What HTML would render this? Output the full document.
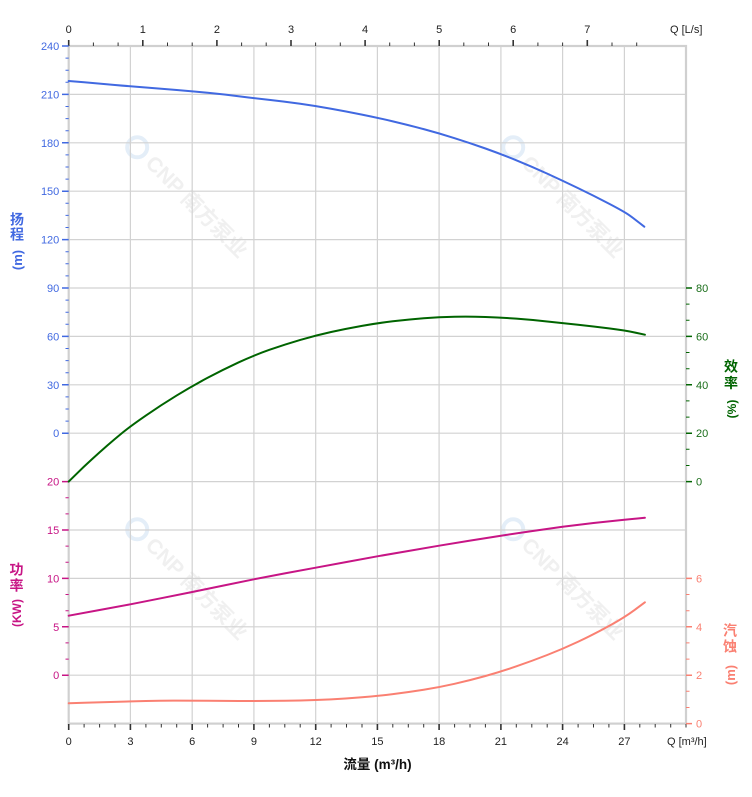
<!DOCTYPE html>
<html><head><meta charset="utf-8"><style>
html,body{margin:0;padding:0;background:#fff;}
svg{display:block;}
text{font-family:"Liberation Sans","Noto Sans CJK SC",sans-serif;}
</style></head><body>
<svg width="752" height="797" viewBox="0 0 752 797" xmlns="http://www.w3.org/2000/svg">
<!-- watermarks -->
<g fill="#f0f0f0" font-weight="bold" font-size="21">
<g transform="translate(186,206) rotate(45)"><circle cx="-76" cy="-7" r="10" fill="none" stroke="#e4eef8" stroke-width="4"/><text x="8" y="0" text-anchor="middle">CNP 南方泵业</text></g>
<g transform="translate(562,206) rotate(45)"><circle cx="-76" cy="-7" r="10" fill="none" stroke="#e4eef8" stroke-width="4"/><text x="8" y="0" text-anchor="middle">CNP 南方泵业</text></g>
<g transform="translate(186,588) rotate(45)"><circle cx="-76" cy="-7" r="10" fill="none" stroke="#e4eef8" stroke-width="4"/><text x="8" y="0" text-anchor="middle">CNP 南方泵业</text></g>
<g transform="translate(562,588) rotate(45)"><circle cx="-76" cy="-7" r="10" fill="none" stroke="#e4eef8" stroke-width="4"/><text x="8" y="0" text-anchor="middle">CNP 南方泵业</text></g>
</g>
<!-- grid -->
<g stroke="#d2d2d2" stroke-width="1.2" fill="none">
<path d="M130.4 46V723.6M192.2 46V723.6M253.9 46V723.6M315.7 46V723.6M377.4 46V723.6M439.1 46V723.6M500.9 46V723.6M562.6 46V723.6M624.4 46V723.6"/>
<path d="M68.7 94.4H686M68.7 142.8H686M68.7 191.2H686M68.7 239.6H686M68.7 288H686M68.7 336.4H686M68.7 384.8H686M68.7 433.2H686M68.7 481.6H686M68.7 530H686M68.7 578.4H686M68.7 626.8H686M68.7 675.2H686"/>
</g>
<rect x="68.7" y="46" width="617.3" height="677.6" fill="none" stroke="#d0d0d0" stroke-width="2.2"/>
<!-- top ticks -->
<g stroke="#333" fill="none">
<path stroke-width="1" d="M93.4 42.5V46M118.1 42.5V46M167.5 42.5V46M192.2 42.5V46M241.6 42.5V46M266.2 42.5V46M315.6 42.5V46M340.3 42.5V46M389.7 42.5V46M414.4 42.5V46M463.8 42.5V46M488.5 42.5V46M537.9 42.5V46M562.6 42.5V46M612 42.5V46M636.7 42.5V46"/>
<path stroke-width="1.6" d="M68.7 40V46M142.8 40V46M216.9 40V46M291 40V46M365.1 40V46M439.2 40V46M513.2 40V46M587.3 40V46"/>
<!-- bottom ticks -->
<path stroke-width="1" d="M84.1 724V727.5M99.6 724V727.5M115 724V727.5M145.9 724V727.5M161.3 724V727.5M176.7 724V727.5M207.6 724V727.5M223.1 724V727.5M238.5 724V727.5M269.4 724V727.5M284.8 724V727.5M300.2 724V727.5M331.1 724V727.5M346.5 724V727.5M362 724V727.5M392.8 724V727.5M408.3 724V727.5M423.7 724V727.5M454.6 724V727.5M470 724V727.5M485.4 724V727.5M516.3 724V727.5M531.8 724V727.5M547.2 724V727.5M578.1 724V727.5M593.5 724V727.5M608.9 724V727.5M639.8 724V727.5M655.2 724V727.5M670.7 724V727.5M686 724V727.5"/>
<path stroke-width="1.6" d="M68.7 724V730M130.4 724V730M192.2 724V730M253.9 724V730M315.7 724V730M377.4 724V730M439.1 724V730M500.9 724V730M562.6 724V730M624.4 724V730"/>
</g>
<!-- left head ticks -->
<g stroke="#4169E1" fill="none">
<path stroke-width="1" d="M65.5 58.1H68.7M65.5 70.2H68.7M65.5 82.3H68.7M65.5 106.5H68.7M65.5 118.6H68.7M65.5 130.7H68.7M65.5 154.9H68.7M65.5 167H68.7M65.5 179.1H68.7M65.5 203.3H68.7M65.5 215.4H68.7M65.5 227.5H68.7M65.5 251.7H68.7M65.5 263.8H68.7M65.5 275.9H68.7M65.5 300.1H68.7M65.5 312.2H68.7M65.5 324.3H68.7M65.5 348.5H68.7M65.5 360.6H68.7M65.5 372.7H68.7M65.5 396.9H68.7M65.5 409H68.7M65.5 421.1H68.7"/>
<path stroke-width="1.5" d="M62 46H68.7M62 94.4H68.7M62 142.8H68.7M62 191.2H68.7M62 239.6H68.7M62 288H68.7M62 336.4H68.7M62 384.8H68.7M62 433.2H68.7"/>
</g>
<!-- left power ticks -->
<g stroke="#C71585" fill="none">
<path stroke-width="1" d="M65.5 497.7H68.7M65.5 513.9H68.7M65.5 546.1H68.7M65.5 562.3H68.7M65.5 594.5H68.7M65.5 610.7H68.7M65.5 642.9H68.7M65.5 659.1H68.7"/>
<path stroke-width="1.5" d="M62 481.6H68.7M62 530H68.7M62 578.4H68.7M62 626.8H68.7M62 675.2H68.7"/>
</g>
<!-- right eff ticks -->
<g stroke="#006400" fill="none">
<path stroke-width="1" d="M686 304.1H689.5M686 320.3H689.5M686 352.5H689.5M686 368.7H689.5M686 400.9H689.5M686 417.1H689.5M686 449.3H689.5M686 465.5H689.5"/>
<path stroke-width="1.5" d="M686 288H692M686 336.4H692M686 384.8H692M686 433.2H692M686 481.6H692"/>
</g>
<!-- right npsh ticks -->
<g stroke="#FA8072" fill="none">
<path stroke-width="1" d="M686 594.5H689.5M686 610.7H689.5M686 642.9H689.5M686 659.1H689.5M686 691.3H689.5M686 707.5H689.5"/>
<path stroke-width="1.5" d="M686 578.4H692M686 626.8H692M686 675.2H692M686 723.6H692"/>
</g>
<!-- curves -->
<g fill="none" stroke-width="2" stroke-linejoin="round" stroke-linecap="round">
<path stroke="#4169E1" d="M68.7,81 L84.15,82.3 Q99.6,83.6 115,84.95 Q130.4,86.3 145.85,87.5 Q161.3,88.7 176.75,90 Q192.2,91.3 207.65,92.8 Q223.1,94.3 238.5,96.25 Q253.9,98.2 269.35,99.9 Q284.8,101.6 300.25,103.8 Q315.7,106 331.1,108.75 Q346.5,111.5 361.95,114.6 Q377.4,117.7 392.85,121.35 Q408.3,125 423.7,129.15 Q439.1,133.3 454.55,138.15 Q470,143 485.45,148.5 Q500.9,154 516.35,160.3 Q531.8,166.6 547.2,173.65 Q562.6,180.7 578.05,188.15 Q593.5,195.6 608.9,203.65 Q624.3,211.7 629.4,215.35 Q634.5,219 639.4,222.85 L644.3,226.7"/>
<path stroke="#006400" d="M68.7,481.6 L76.35,474.05 Q84,466.5 91.8,459.4 Q99.6,452.3 107.3,445.55 Q115,438.8 122.7,432.5 Q130.4,426.2 145.85,415.55 Q161.3,404.9 176.75,395.45 Q192.2,386 207.65,377.8 Q223.1,369.6 238.5,362.45 Q253.9,355.3 269.35,349.85 Q284.8,344.4 300.25,339.9 Q315.7,335.4 331.1,332 Q346.5,328.6 361.95,325.85 Q377.4,323.1 392.85,321.3 Q408.3,319.5 423.7,318.25 Q439.1,317 454.55,316.7 Q470,316.4 485.45,316.95 Q500.9,317.5 516.35,318.65 Q531.8,319.8 547.2,321.45 Q562.6,323.1 578.05,324.8 Q593.5,326.5 608.95,328.4 Q624.4,330.3 634.65,332.5 L644.9,334.7"/>
<polyline stroke="#C71585" points="68.7,615.7 99.6,610 130.4,604.3 161.3,598.2 192.2,592 223.1,585.6 253.9,579.3 284.8,573.4 315.7,567.7 346.5,562 377.4,556.3 408.3,551 439.1,545.7 470,540.6 500.9,535.7 531.8,531.1 562.6,526.7 593.5,523 624.4,519.8 644.9,517.8"/>
<path stroke="#FA8072" d="M68.7,703.3 L84.15,702.8 Q99.6,702.3 115,701.85 Q130.4,701.4 145.85,701 Q161.3,700.6 176.75,700.65 Q192.2,700.7 207.65,700.8 Q223.1,700.9 238.5,700.95 Q253.9,701 269.35,700.9 Q284.8,700.8 300.25,700.5 Q315.7,700.2 331.1,699.4 Q346.5,698.6 361.95,697.3 Q377.4,696 392.85,694.1 Q408.3,692.2 423.7,689.75 Q439.1,687.3 454.55,683.8 Q470,680.3 485.45,676 Q500.9,671.7 516.35,666.35 Q531.8,661 547.2,655 Q562.6,649 578.05,641.75 Q593.5,634.5 608.95,626 Q624.4,617.5 634.65,609.9 L644.9,602.3"/>
</g>
<!-- tick labels -->
<g font-size="11" fill="#222" text-anchor="middle">
<text x="68.7" y="33">0</text><text x="142.8" y="33">1</text><text x="216.9" y="33">2</text><text x="291" y="33">3</text><text x="365.1" y="33">4</text><text x="439.2" y="33">5</text><text x="513.2" y="33">6</text><text x="587.3" y="33">7</text>
<text x="68.7" y="745">0</text><text x="130.4" y="745">3</text><text x="192.2" y="745">6</text><text x="253.9" y="745">9</text><text x="315.7" y="745">12</text><text x="377.4" y="745">15</text><text x="439.1" y="745">18</text><text x="500.9" y="745">21</text><text x="562.6" y="745">24</text><text x="624.4" y="745">27</text>
</g>
<text x="670" y="33" font-size="11" fill="#222">Q [L/s]</text>
<text x="667" y="745" font-size="11" fill="#222">Q [m³/h]</text>
<g font-size="11" fill="#4169E1" text-anchor="end">
<text x="59.3" y="50">240</text><text x="59.3" y="98.4">210</text><text x="59.3" y="146.8">180</text><text x="59.3" y="195.2">150</text><text x="59.3" y="243.6">120</text><text x="59.3" y="292">90</text><text x="59.3" y="340.4">60</text><text x="59.3" y="388.8">30</text><text x="59.3" y="437.2">0</text>
</g>
<g font-size="11" fill="#C71585" text-anchor="end">
<text x="59.3" y="485.6">20</text><text x="59.3" y="534">15</text><text x="59.3" y="582.4">10</text><text x="59.3" y="630.8">5</text><text x="59.3" y="679.2">0</text>
</g>
<g font-size="11" fill="#1a6e1a">
<text x="696" y="292">80</text><text x="696" y="340.4">60</text><text x="696" y="388.8">40</text><text x="696" y="437.2">20</text><text x="696" y="485.6">0</text>
</g>
<g font-size="11" fill="#FA8072">
<text x="696" y="582.4">6</text><text x="696" y="630.8">4</text><text x="696" y="679.2">2</text><text x="696" y="727.6">0</text>
</g>
<!-- axis titles -->
<text x="377.5" y="769" font-size="13.5" font-weight="bold" fill="#111" text-anchor="middle">流量 (m³/h)</text>
<g font-size="14" font-weight="bold" text-anchor="middle">
<g fill="#4169E1"><text x="17" y="224.5">扬</text><text x="17" y="239.5">程</text><text transform="translate(22,260) rotate(-90)" font-size="13">(m)</text></g>
<g fill="#C71585"><text x="16.5" y="574.5">功</text><text x="16.5" y="590.5">率</text><text transform="translate(21,613) rotate(-90)" font-size="12">(KW)</text></g>
<g fill="#006400"><text x="731" y="371.5">效</text><text x="731" y="388">率</text><text transform="translate(736,409) rotate(-90)" font-size="12">(%)</text></g>
<g fill="#FA8072"><text x="730" y="635.5">汽</text><text x="730" y="651.5">蚀</text><text transform="translate(735,675) rotate(-90)" font-size="13">(m)</text></g>
</g>
</svg>
</body></html>
